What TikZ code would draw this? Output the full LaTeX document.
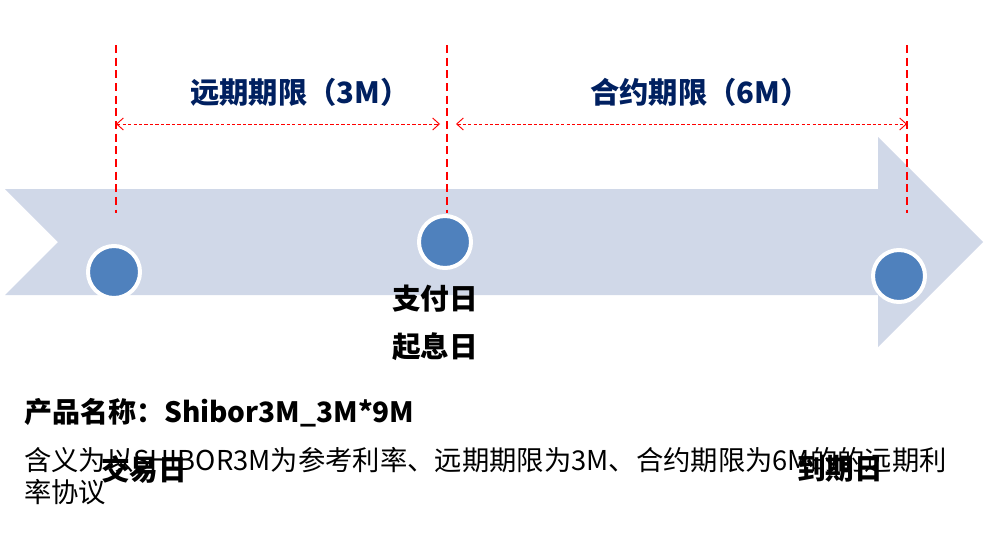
\documentclass[tikz,border=0pt]{standalone}
\usepackage{fontspec}
\setmainfont{Noto Sans CJK SC}
\usetikzlibrary{arrows.meta}

\definecolor{bandgray}{HTML}{D0D8E8}
\definecolor{dayblue}{HTML}{4F81BD}
\definecolor{termnavy}{HTML}{002060}

\tikzset{
  daydot/.style={circle, fill=dayblue, draw=white, line width=3pt, minimum size=39pt, inner sep=0pt},
  redline/.style={red, line width=1.5pt, dash pattern=on 6pt off 3.5pt},
  span/.style={red, line width=0.7pt, dash pattern=on 2.5pt off 1.6pt,
    {Straight Barb[length=5pt,width=9pt]}-{Straight Barb[length=5pt,width=9pt]}},
  termlbl/.style={text=termnavy, inner sep=0pt, font=\bfseries\fontsize{22}{26}\selectfont},
  daylbl/.style={inner sep=0pt, font=\bfseries\fontsize{21.5}{26}\selectfont}
}

\begin{document}
\begin{tikzpicture}[x=0.75pt, y=-0.75pt]
  \useasboundingbox (0,0) rectangle (1002,539);

  % time band
  \fill[bandgray] (5,189) -- (878,189) -- (878,137) -- (983,242) -- (878,347)
    -- (878,295) -- (5,295) -- (58,242) -- cycle;

  % dashed markers
  \coordinate (tradetop) at (116,45);
  \coordinate (tradebot) at (116,213);
  \coordinate (paytop) at (447,45);
  \coordinate (paybot) at (447,213);
  \coordinate (endtop) at (907,45);
  \coordinate (endbot) at (907,213);
  \draw[redline] (tradetop) -- (tradebot);
  \draw[redline] (paytop) -- (paybot);
  \draw[redline] (endtop) -- (endbot);

  % spans
  \coordinate (s1a) at (116,124);
  \coordinate (s1b) at (440,124);
  \coordinate (s2a) at (456,124);
  \coordinate (s2b) at (907,124);
  \draw[span] (s1a) -- (s1b);
  \draw[span] (s2a) -- (s2b);
  \node[termlbl] (fwd) at (300,92) {远期期限（3M）};
  \node[termlbl] (ctr) at (700,92) {合约期限（6M）};

  % dates
  \node[daydot] (trade) at (114,272) {};
  \node[daydot] (pay) at (445,242) {};
  \node[daydot] (mat) at (899,276) {};

  % product text
  \node[anchor=west, inner sep=0pt, font=\bfseries\fontsize{21}{25}\selectfont]
    (name) at (24,413) {产品名称：Shibor3M\_3M*9M};
  \node[anchor=north west, align=left, inner sep=0pt, font=\fontsize{20.5}{24}\selectfont]
    (desc) at (24,447) {含义为以SHIBOR3M为参考利率、远期期限为3M、合约期限为6M的的远期利\\率协议};

  \node[daylbl] (paylbl) at (435,299) {支付日};
  \node[daylbl] (vallbl) at (435,347) {起息日};
  \node[daylbl] (tradelbl) at (144,470) {交易日};
  \node[daylbl] (matlbl) at (840,469) {到期日};
\end{tikzpicture}
\end{document}
